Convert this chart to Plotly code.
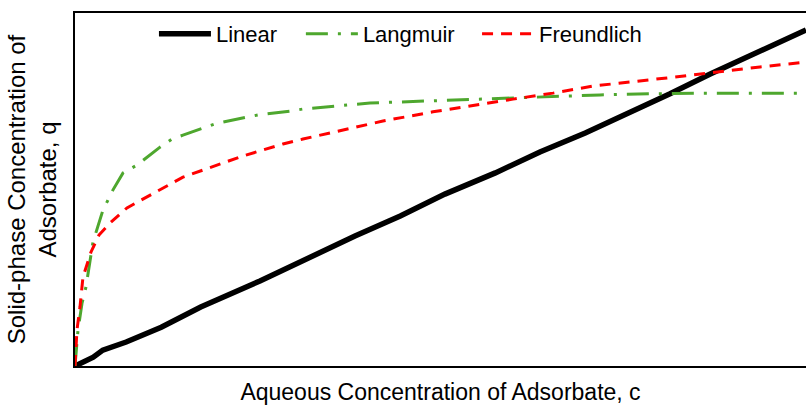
import plotly.graph_objects as go

# Linear isotherm
lin_x = [0, 2.5, 3.8, 7.0, 11.8, 17.2, 25.3, 32.1, 38.3, 44.5, 50.6, 57.5, 63.6, 69.8, 75.9, 81.4, 86.9, 93.7, 100]
lin_y = [0, 2.5, 4.5, 6.8, 11.0, 16.7, 24.1, 30.9, 36.8, 42.5, 48.7, 54.7, 60.6, 66.0, 71.7, 77.1, 82.7, 89.0, 95.2]

# Langmuir isotherm
lang_x = [0, 0.27, 0.41, 0.96, 1.50, 2.46, 3.83, 4.51, 5.20, 6.57, 8.48, 11.63, 13.27, 14.77, 17.51, 19.15,
          23.53, 25.03, 29.41, 31.19, 40.36, 52.67, 59.10, 64.98, 71.82, 78.66, 85.50, 100]
lang_y = [0, 5.9, 10.2, 17.8, 22.4, 35.1, 44.2, 47.0, 49.9, 54.7, 56.9, 62.0, 64.3, 65.4, 67.4, 68.6,
          70.5, 71.1, 72.2, 72.8, 74.5, 75.4, 75.9, 76.5, 76.8, 77.1, 77.3, 77.3]

# Freundlich isotherm
fr_x = [0, 0.14, 0.27, 0.68, 1.09, 2.19, 3.28, 4.79, 7.11, 9.85, 12.59, 14.77, 17.51, 20.25, 22.98, 25.72,
        28.45, 31.19, 36.66, 42.13, 48.97, 54.45, 59.92, 65.39, 70.86, 80.98, 87.82, 93.71, 100]
fr_y = [0, 5.9, 10.2, 16.7, 25.2, 32.3, 37.1, 40.5, 44.8, 47.9, 51.0, 53.5, 55.5, 57.5, 59.5, 61.2,
        62.9, 64.3, 66.9, 69.4, 72.0, 73.9, 75.6, 77.3, 79.3, 81.6, 83.3, 84.7, 86.1]

fig = go.Figure()
fig.add_trace(go.Scatter(x=lin_x, y=lin_y, mode="lines", name="Linear", legend="legend",
                         line=dict(color="black", width=5.5)))
fig.add_trace(go.Scatter(x=lang_x, y=lang_y, mode="lines", name="Langmuir", legend="legend2",
                         line=dict(color="#4ea72e", width=3, dash="22px,10px,3px,10px")))
fig.add_trace(go.Scatter(x=fr_x, y=fr_y, mode="lines", name="Freundlich", legend="legend3",
                         line=dict(color="#ff0000", width=3, dash="11px,8px")))

font = "Liberation Sans, Arial, sans-serif"
leg = dict(orientation="h", xanchor="left", y=1.0, yanchor="top",
           font=dict(size=22, family=font), itemwidth=52, bgcolor="rgba(0,0,0,0)")
fig.update_layout(
    width=806, height=407,
    margin=dict(l=75, r=0, t=13, b=41),
    paper_bgcolor="white", plot_bgcolor="white",
    font=dict(family=font, size=22, color="black"),
    showlegend=True,
    legend=dict(leg, x=0.108),
    legend2=dict(leg, x=0.309),
    legend3=dict(leg, x=0.550),
    xaxis=dict(range=[0, 100], showline=True, linecolor="black", linewidth=1.5, mirror=True,
               showgrid=False, zeroline=False, showticklabels=False, ticks="",
               title=dict(text="Aqueous Concentration of Adsorbate, c", standoff=17,
                          font=dict(size=23, family=font))),
    yaxis=dict(range=[0, 100], showline=True, linecolor="black", linewidth=1.5,
               showgrid=False, zeroline=False, showticklabels=False, ticks="",
               title=dict(text="Solid-phase Concentration of<br>Adsorbate, q", standoff=10,
                          font=dict(size=24, family=font))),
)

fig.write_html("out.html")
